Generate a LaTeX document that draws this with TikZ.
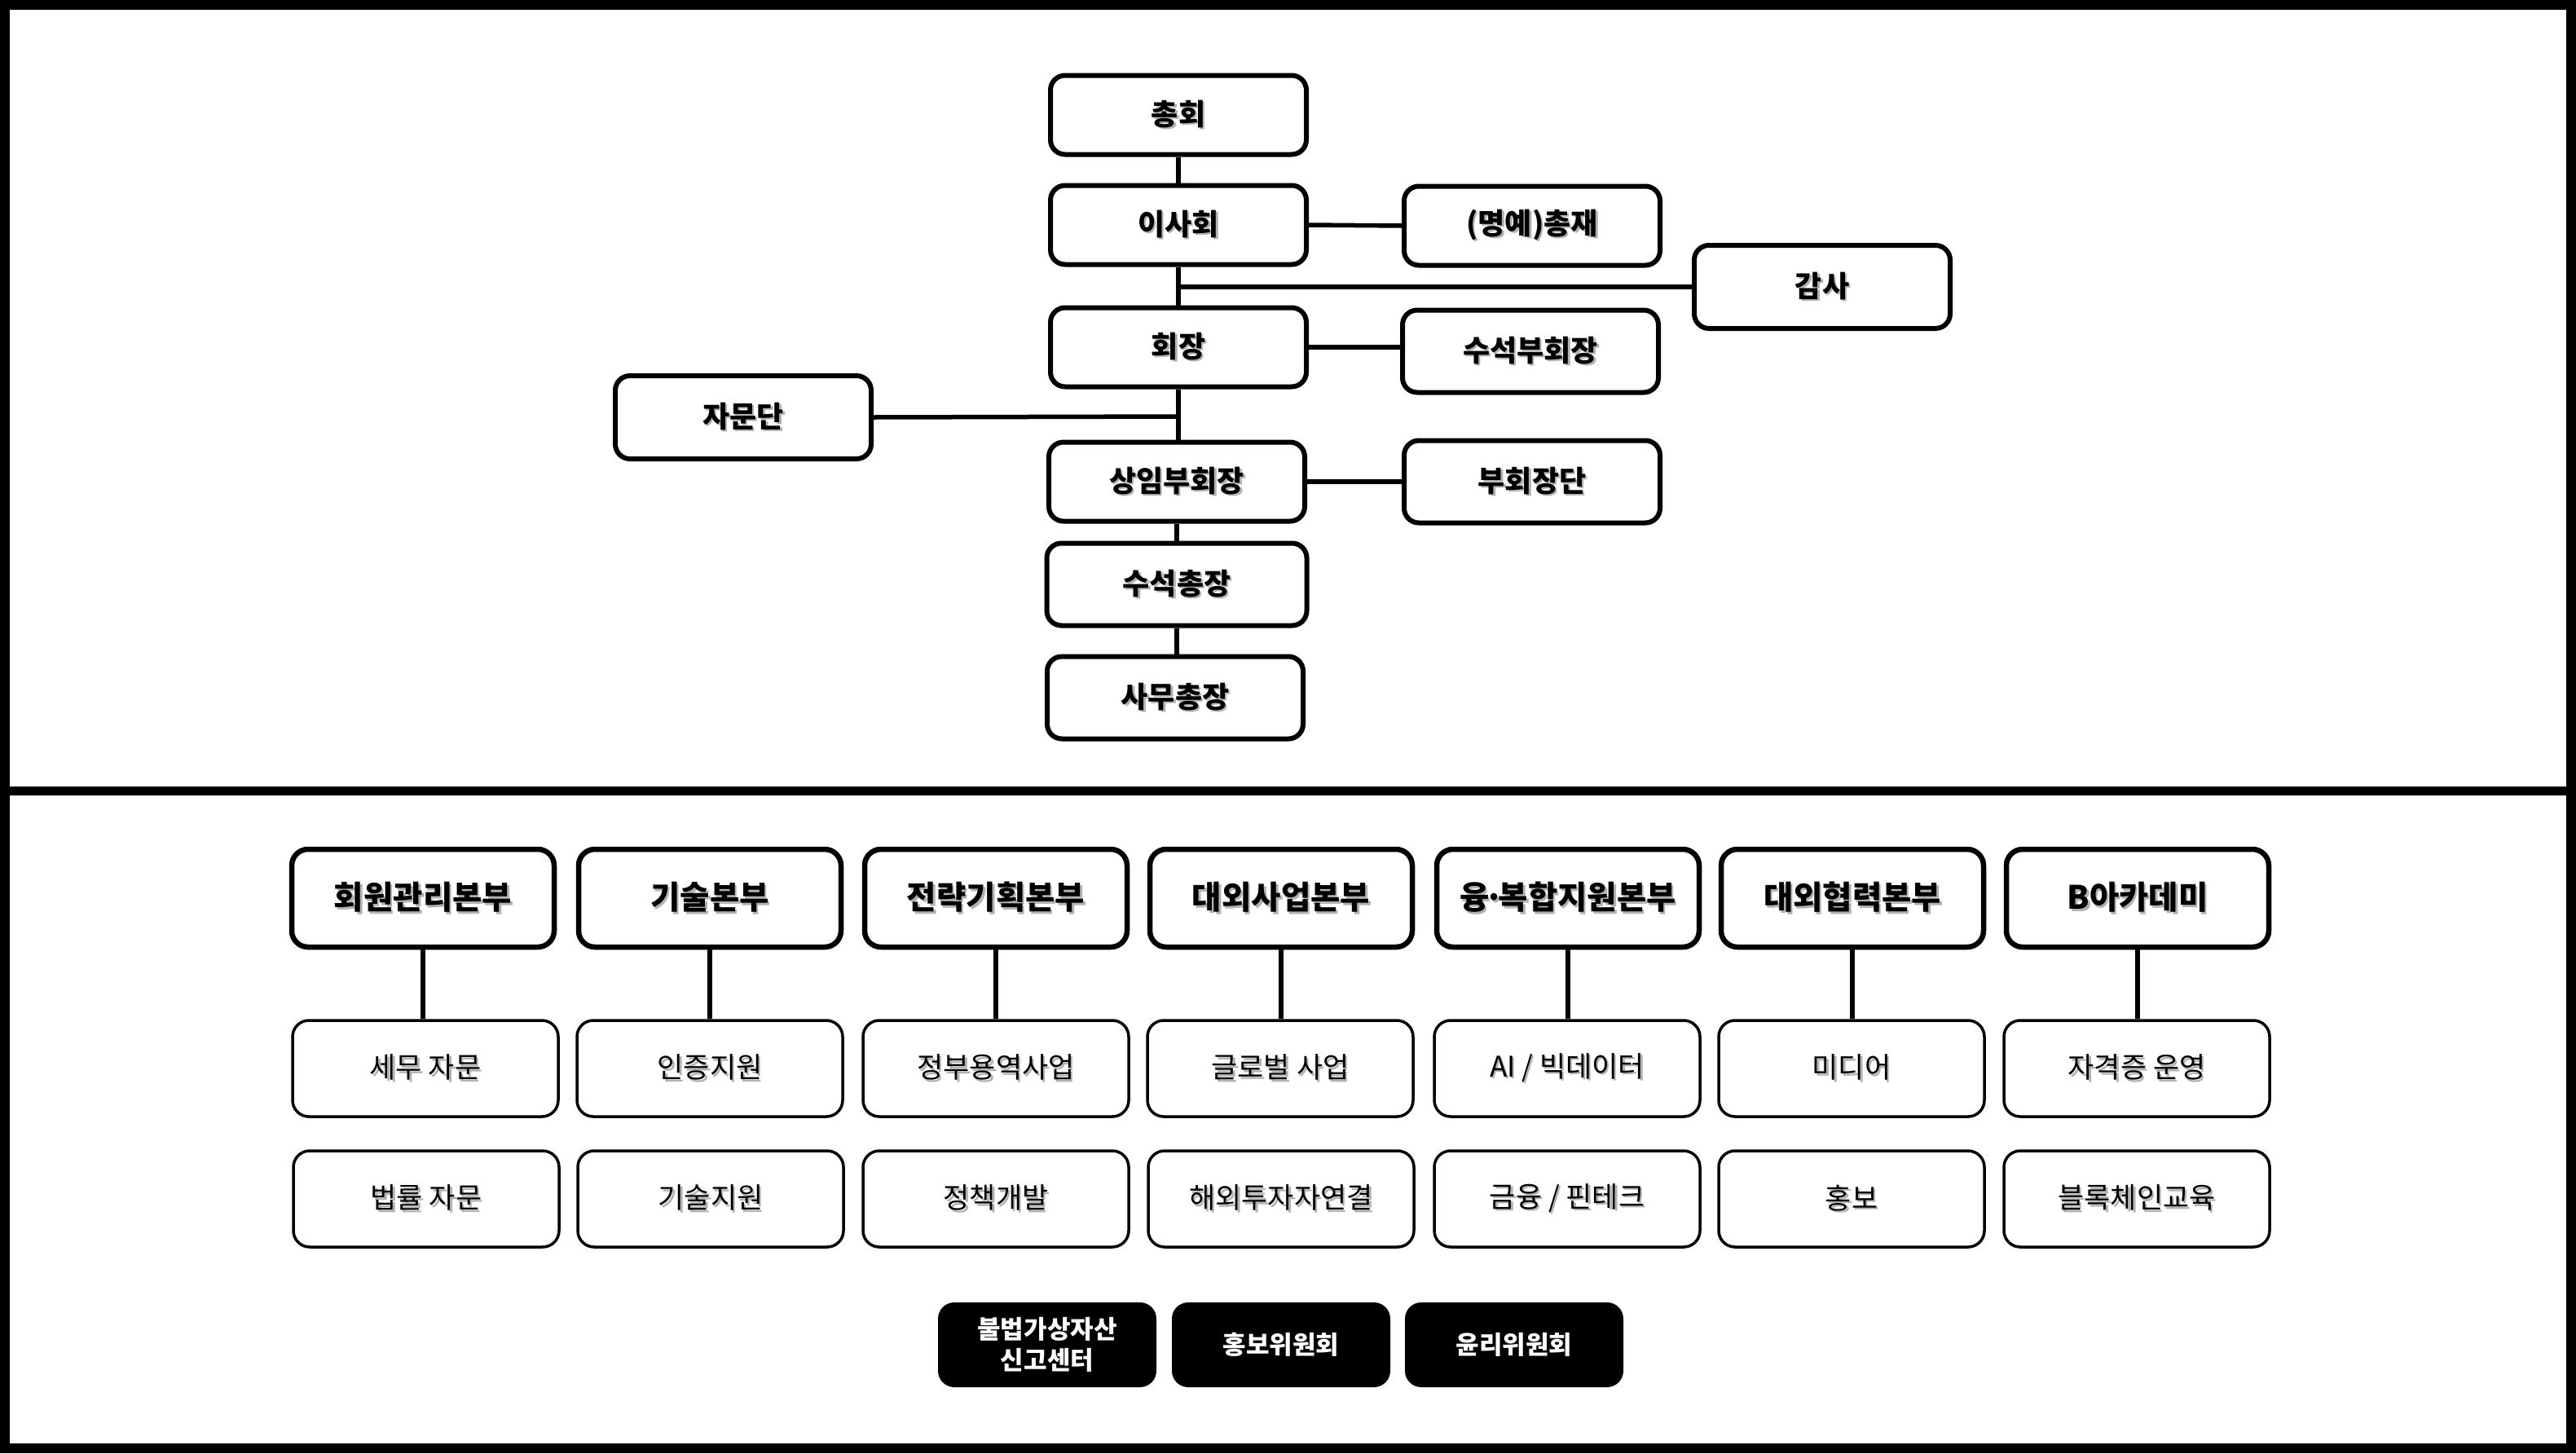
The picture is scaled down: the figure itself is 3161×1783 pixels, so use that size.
\documentclass[tikz,border=0pt]{standalone}
\usepackage{fontspec}
\setmainfont{Noto Sans CJK KR}
\newcommand\shd[1]{\leavevmode\rlap{\kern2.5pt\raisebox{-2.5pt}{\textcolor{black!30}{#1}}}#1}
\newcommand\ndot{\makebox[11pt]{·}}
\tikzset{
  topbox/.style={draw, line width=6pt, rounded corners=18pt, fill=white,
    minimum width=314pt, minimum height=97pt, inner sep=0pt,
    font=\bfseries\fontsize{36}{42}\selectfont},
  headbox/.style={draw, line width=6.5pt, rounded corners=20pt, fill=white,
    minimum width=322pt, minimum height=120pt, inner sep=0pt,
    font=\bfseries\fontsize{39.5}{46}\selectfont},
  subbox/.style={draw, line width=3.5pt, rounded corners=20pt, fill=white,
    minimum width=326pt, minimum height=118pt, inner sep=0pt,
    font=\fontsize{35}{41}\selectfont},
  blkbox/.style={fill=black, text=white, rounded corners=20pt,
    minimum width=268pt, minimum height=104pt, inner sep=0pt, align=center,
    font=\bfseries\fontsize{31}{38}\selectfont},
  conn/.style={line width=5.5pt}
}
\begin{document}
\begin{tikzpicture}[x=1pt, y=-1pt]
\useasboundingbox (0,0) rectangle (3161,1783);
\draw[line width=12pt] (6,6) rectangle (3155,1777);
\draw[line width=11pt] (0,970) -- (3161,970);

% top chart
\node[topbox] (zh) at (1446,141) {\shd{총회}};
\node[topbox] (isa) at (1446,276) {\shd{이사회}};
\node[topbox] (myeong) at (1880,277) {\shd{(명예)총재}};
\node[topbox, minimum height=102pt] (gamsa) at (2236,352) {\shd{감사}};
\node[topbox] (hoe) at (1446,426) {\shd{회장}};
\node[topbox, minimum height=101pt] (ssb) at (1878,431) {\shd{수석부회장}};
\node[topbox, minimum height=102pt] (jamun) at (912,512) {\shd{자문단}};
\node[topbox] (sangim) at (1444,591) {\shd{상임부회장}};
\node[topbox, minimum height=101pt] (buh) at (1880,591) {\shd{부회장단}};
\node[topbox, minimum height=101pt, minimum width=319pt] (sschong) at (1444,717) {\shd{수석총장}};
\node[topbox, minimum height=101pt] (samu) at (1442,856) {\shd{사무총장}};

\coordinate (j1) at (1446,352);
\coordinate (j2) at (1446,511);
\draw[conn] (zh.south) -- (isa.north);
\draw[conn] (isa.south) -- (hoe.north);
\draw[conn] (isa.east) -- (myeong.west);
\draw[conn] (j1) -- (gamsa.west);
\draw[conn] (hoe.east) -- (hoe.east -| ssb.west);
\draw[conn] (hoe.south) -- (hoe.south |- sangim.north);
\draw[conn] (j2) -- (jamun.east);
\draw[conn] (sangim.east) -- (buh.west);
\draw[conn] (sangim.south) -- (sschong.north);
\draw[conn] (sschong.south) -- (sschong.south |- samu.north);

% bottom: divisions
\node[headbox] (h1) at (519,1102) {\shd{회원관리본부}};
\node[headbox] (h2) at (871,1102) {\shd{기술본부}};
\node[headbox] (h3) at (1222,1102) {\shd{전략기획본부}};
\node[headbox] (h4) at (1572,1102) {\shd{대외사업본부}};
\node[headbox] (h5) at (1924,1102) {\shd{융\ndot 복합지원본부}};
\node[headbox] (h6) at (2273,1102) {\shd{대외협력본부}};
\node[headbox] (h7) at (2623,1102) {\shd{B아카데미}};

\node[subbox] (a1) at (522,1311) {\shd{세무 자문}};
\node[subbox] (a2) at (871,1311) {\shd{인증지원}};
\node[subbox] (a3) at (1222,1311) {\shd{정부용역사업}};
\node[subbox] (a4) at (1571,1311) {\shd{글로벌 사업}};
\node[subbox] (a5) at (1923,1311) {\shd{AI / 빅데이터}};
\node[subbox] (a6) at (2272,1311) {\shd{미디어}};
\node[subbox] (a7) at (2622,1311) {\shd{자격증 운영}};

\node[subbox] (b1) at (523,1471) {\shd{법률 자문}};
\node[subbox] (b2) at (872,1471) {\shd{기술지원}};
\node[subbox] (b3) at (1222,1471) {\shd{정책개발}};
\node[subbox] (b4) at (1572,1471) {\shd{해외투자자연결}};
\node[subbox] (b5) at (1923,1471) {\shd{금융 / 핀테크}};
\node[subbox] (b6) at (2272,1471) {\shd{홍보}};
\node[subbox] (b7) at (2622,1471) {\shd{블록체인교육}};

\foreach \i in {1,...,7}{
  \draw[conn] (h\i.south) -- (h\i.south |- a\i.north);
}

\node[blkbox] (k1) at (1285,1650) {불법가상자산\\신고센터};
\node[blkbox] (k2) at (1572,1650) {홍보위원회};
\node[blkbox] (k3) at (1858,1650) {윤리위원회};
\end{tikzpicture}
\end{document}
